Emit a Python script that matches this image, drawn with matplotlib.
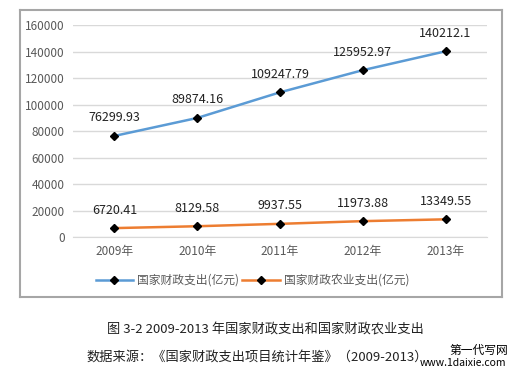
import matplotlib
matplotlib.use("Agg")
import matplotlib.pyplot as plt

plt.rcParams['font.family'] = ['Noto Sans CJK SC', 'DejaVu Sans']

years = ["2009年", "2010年", "2011年", "2012年", "2013年"]
total = [76299.93, 89874.16, 109247.79, 125952.97, 140212.1]
agri = [6720.41, 8129.58, 9937.55, 11973.88, 13349.55]
total_labels = ["76299.93", "89874.16", "109247.79", "125952.97", "140212.1"]
agri_labels = ["6720.41", "8129.58", "9937.55", "11973.88", "13349.55"]
yticks = [0, 20000, 40000, 60000, 80000, 100000, 120000, 140000, 160000]

fig = plt.figure(figsize=(5.15, 3.86), dpi=100)
fig.patch.set_facecolor("white")

# chart border box as a frame-only axes
frame = fig.add_axes([0.0388, 0.2306, 0.936, 0.7434], zorder=0)
frame.set_xticks([])
frame.set_yticks([])
frame.patch.set_facecolor("white")
for sp in frame.spines.values():
    sp.set_visible(True)
    sp.set_color("#a6a6a6")
    sp.set_linewidth(1.5)

ax = fig.add_axes([0.1417, 0.386, 0.8039, 0.549], zorder=1)
ax.patch.set_alpha(0)

x = list(range(len(years)))
ax.plot(x, total, color="#5B9BD5", linewidth=1.8, marker="D", markersize=4.5,
        markerfacecolor="black", markeredgecolor="black", label="国家财政支出(亿元)")
ax.plot(x, agri, color="#ED7D31", linewidth=1.8, marker="D", markersize=4.5,
        markerfacecolor="black", markeredgecolor="black", label="国家财政农业支出(亿元)")

for xi, v, s in zip(x, total, total_labels):
    ax.annotate(s, (xi, v), xytext=(0, 13), textcoords="offset points",
                ha="center", va="center", fontsize=9, color="#222222")
for xi, v, s in zip(x, agri, agri_labels):
    ax.annotate(s, (xi, v), xytext=(0, 13), textcoords="offset points",
                ha="center", va="center", fontsize=9, color="#222222")

ax.set_xlim(-0.5, 4.5)
ax.set_ylim(0, 160000)
ax.set_yticks(yticks)
ax.set_yticklabels([str(t) for t in yticks])
ax.set_xticks(x)
ax.set_xticklabels(years)
ax.tick_params(axis="both", length=0, labelsize=8.5, labelcolor="#595959")
ax.tick_params(axis="y", pad=6)
ax.tick_params(axis="x", pad=6)
ax.grid(axis="y", color="#d9d9d9", linewidth=1.0)
ax.set_axisbelow(True)
for sp in ["top", "right", "left"]:
    ax.spines[sp].set_visible(False)
ax.spines["bottom"].set_color("#d9d9d9")

leg = fig.legend(loc="center", bbox_to_anchor=(0.49, 0.274), ncol=2, frameon=False,
                 fontsize=8.5, handlelength=3.2, columnspacing=0.3, handletextpad=0.3)
leg.set_zorder(3)
for t in leg.get_texts():
    t.set_color("#595959")

fig.text(0.515, 1 - 330 / 386, "图 3-2 2009-2013 年国家财政支出和国家财政农业支出",
         ha="center", va="center", fontsize=9.5, color="#222222")
fig.text(0.167, 1 - 357 / 386, "数据来源：《国家财政支出项目统计年鉴》（2009-2013）",
         ha="left", va="center", fontsize=9.5, color="#222222")
fig.text(0.93, 1 - 350 / 386, "第一代写网", ha="center", va="center", fontsize=8.5, color="black")
fig.text(0.982, 1 - 363 / 386, "www.1daixie.com", ha="right", va="center", fontsize=7.5, color="black")

fig.savefig("out.png", dpi=100, facecolor="white")
